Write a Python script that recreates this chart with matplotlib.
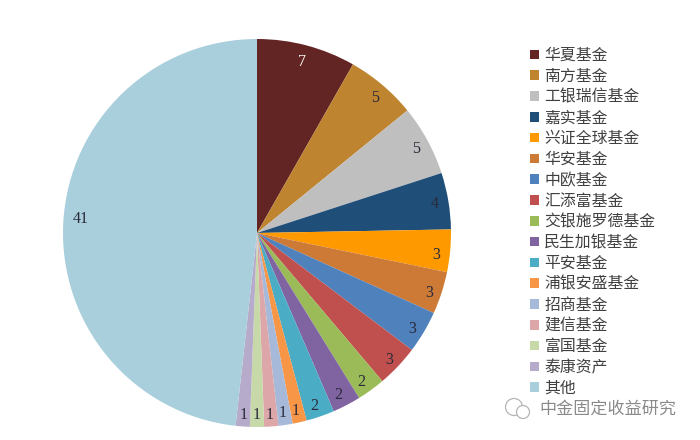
import matplotlib
matplotlib.use("Agg")
import matplotlib.pyplot as plt
from matplotlib.patches import Circle

plt.rcParams["font.family"] = ["Noto Sans CJK SC", "DejaVu Sans"]

# ── data ──────────────────────────────────────────────────────────────────────
funds = ["华夏基金", "南方基金", "工银瑞信基金", "嘉实基金", "兴证全球基金", "华安基金",
         "中欧基金", "汇添富基金", "交银施罗德基金", "民生加银基金", "平安基金",
         "浦银安盛基金", "招商基金", "建信基金", "富国基金", "泰康资产", "其他"]
counts = [7, 5, 5, 4, 3, 3, 3, 3, 2, 2, 2, 1, 1, 1, 1, 1, 41]
colors = ["#632523", "#BE8430", "#BFBFBF", "#1F4E79", "#FF9900", "#CC7A35", "#4F81BD",
          "#C0504D", "#9BBB59", "#8064A2", "#4BACC6", "#F79646", "#A7B9D9", "#DDA6A8",
          "#C7D8A9", "#B7ABCB", "#A9CEDC"]
watermark = "中金固定收益研究"

W, H = 700, 440
fig = plt.figure(figsize=(W / 100, H / 100), dpi=100)

# pie sits in a square axes: centre (257, 233), radius 194 px
R = 194
ax = fig.add_axes([(257 - R) / W, 1 - (233 + R) / H, 2 * R / W, 2 * R / H])
wedges, texts = ax.pie(
    counts,
    colors=colors,
    labels=[str(c) for c in counts],
    labeldistance=0.91,
    startangle=90,
    counterclock=False,
    radius=1,
    textprops={"family": "Liberation Serif", "fontsize": 11.5, "color": "#2A2A3A"},
)
texts[0].set_color("white")
# labels centred on their spot; lower and right-hand ones sit a bit nearer the rim
for t in texts:
    x, y = t.get_position()
    t.set_ha("center")
    if y < 0:
        t.set_y(y - 0.03)
    if x > 0 and abs(y) < 0.7:
        t.set_x(x + 0.02)
    if x < 0 and y > 0:
        t.set_y(y + 0.02)
ax.set_xlim(-1, 1)
ax.set_ylim(-1, 1)

# legend on the right
fig.legend(
    wedges,
    funds,
    loc="upper left",
    bbox_to_anchor=(530 / W, 1 - 47 / H),
    frameon=False,
    fontsize=11.4,
    labelcolor="#404040",
    handlelength=0.55,
    handleheight=0.55,
    handletextpad=0.35,
    labelspacing=0.24,
    borderpad=0,
    borderaxespad=0,
)

# watermark with the little chat icon
fig.text(539 / W, 1 - 409 / H, watermark, fontsize=12.3, color="#8A8A8A", va="center", ha="left")
icon = fig.add_axes([503 / W, 1 - 421 / H, 30 / W, 24 / H])
icon.set_xlim(0, 30)
icon.set_ylim(0, 24)
icon.axis("off")
icon.add_patch(Circle((11, 14), 8.5, fill=False, ec="#B5B5B5", lw=0.9))
icon.add_patch(Circle((20, 9), 6.5, fc="white", ec="#B5B5B5", lw=0.9))

fig.savefig("out.png", dpi=100)
